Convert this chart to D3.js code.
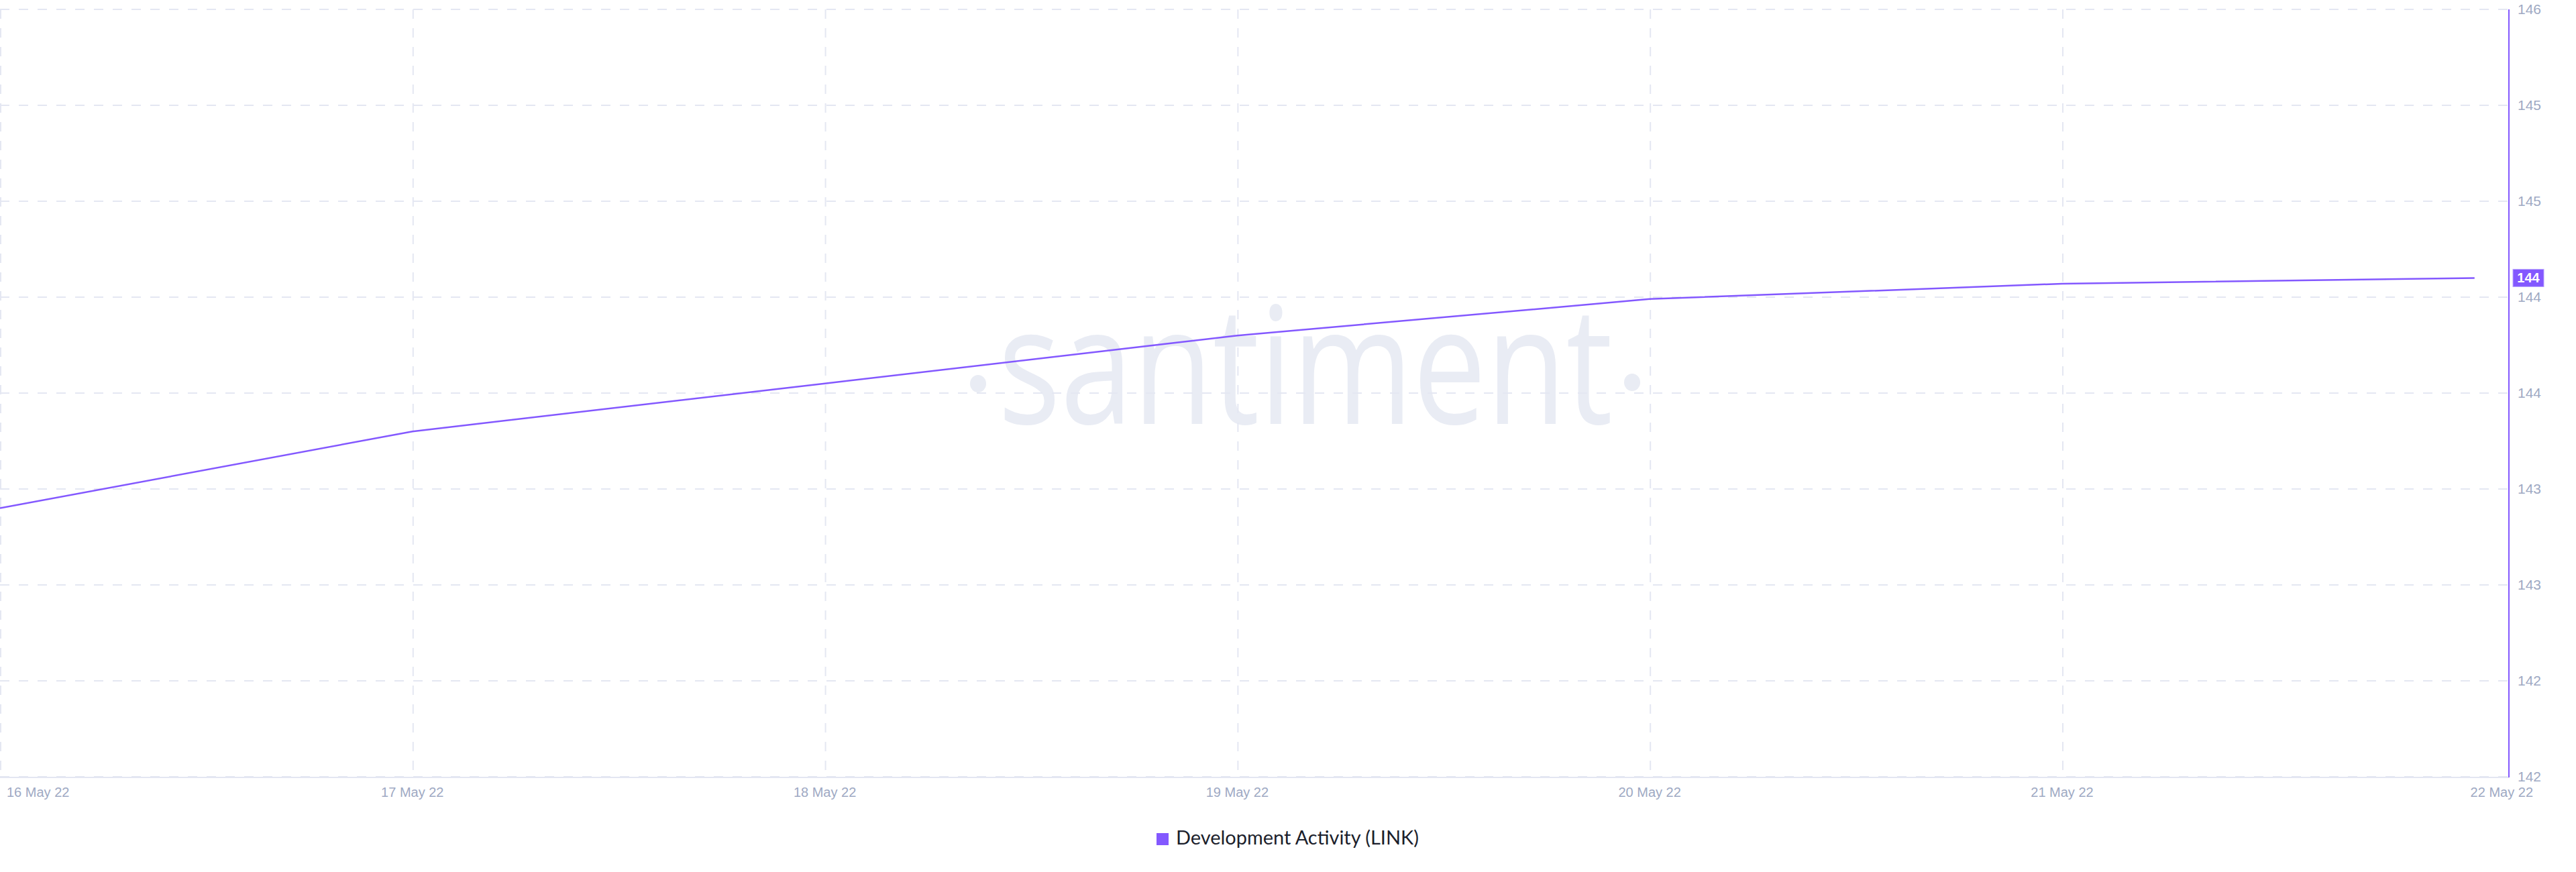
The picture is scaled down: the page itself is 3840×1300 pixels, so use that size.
<!DOCTYPE html>
<html>
<head>
<meta charset="utf-8">
<script src="https://cdn.jsdelivr.net/npm/d3@7"></script>
<style>
html,body{margin:0;padding:0;background:#fff;}
svg{display:block;}
</style>
</head>
<body>
<script>
// ---- data ----
const dates = ["2022-05-16","2022-05-17","2022-05-18","2022-05-19","2022-05-20","2022-05-21","2022-05-22"];
const devActivity = [143.40, 143.80, 144.05, 144.30, 144.49, 144.57, 144.60];
const xTickLabels = ["16 May 22","17 May 22","18 May 22","19 May 22","20 May 22","21 May 22","22 May 22"];
const yTickValues = [146, 145.5, 145, 144.5, 144, 143.5, 143, 142.5, 142];
const yTickLabels = ["146","145","145","144","144","143","143","142","142"];
const seriesName = "Development Activity (LINK)";

(function(){
// ---- layout ----
const W = 3840, H = 1300;
const pLeft = 0, pRight = 3740, pTop = 14, pBottom = 1158;
const purple = "#8358ff";
const gridColor = "#e4e7f2";
const tickColor = "#9ea9c3";

const parse = d3.utcParse("%Y-%m-%d");
const data = dates.map((d,i)=>({date: parse(d), value: devActivity[i]}));

const x = d3.scaleUtc()
  .domain([parse(dates[0]), new Date(parse(dates[dates.length-1]).getTime() + 2*3600*1000)])
  .range([pLeft, pRight]);
const y = d3.scaleLinear().domain([142, 146]).range([pBottom, pTop]);

const svg = d3.select("body").append("svg").attr("width", W).attr("height", H);

// watermark
const wm = svg.append("g").attr("transform", "translate(1946,632) scale(0.8,1)");
wm.append("text")
  .attr("text-anchor","middle")
  .attr("font-family","'Open Sans', sans-serif")
  .attr("font-size", 243)
  .attr("fill","#e9ecf4")
  .text("santiment");
svg.append("ellipse").attr("cx",1458).attr("cy",572).attr("rx",12).attr("ry",13).attr("fill","#e9ecf4");
svg.append("ellipse").attr("cx",2433).attr("cy",570).attr("rx",12).attr("ry",13).attr("fill","#e9ecf4");

// horizontal grid
svg.append("g").selectAll("line").data(yTickValues).join("line")
  .attr("x1", pLeft).attr("x2", pRight)
  .attr("y1", d=>y(d)).attr("y2", d=>y(d))
  .attr("stroke", gridColor).attr("stroke-width", 2)
  .attr("stroke-dasharray", "14,14");

// vertical grid (day ticks except the last)
const vTicks = data.slice(0, data.length-1).map(d=>d.date);
svg.append("g").selectAll("line").data(vTicks).join("line")
  .attr("x1", d=>x(d)+1).attr("x2", d=>x(d)+1)
  .attr("y1", pTop).attr("y2", pBottom)
  .attr("stroke", gridColor).attr("stroke-width", 2)
  .attr("stroke-dasharray", "14,14");

// bottom axis line
svg.append("line").attr("x1", pLeft).attr("x2", pRight)
  .attr("y1", pBottom+1).attr("y2", pBottom+1)
  .attr("stroke", "#e3e6f2").attr("stroke-width", 2);

// right axis line
svg.append("line").attr("x1", pRight).attr("x2", pRight)
  .attr("y1", pTop).attr("y2", pBottom+1)
  .attr("stroke", purple).attr("stroke-width", 2);

// y tick labels
svg.append("g").selectAll("text").data(yTickValues).join("text")
  .attr("x", pRight + 13).attr("y", d=>y(d))
  .attr("dy","0.35em")
  .attr("font-family","'Liberation Sans', Arial, sans-serif")
  .attr("font-size", 21)
  .attr("fill", tickColor)
  .text((d,i)=>yTickLabels[i]);

// x tick labels: first starts at left edge, last ends at right edge
const xg = svg.append("g");
const nT = data.length;
data.forEach((d,i)=>{
  const t = xg.append("text")
    .attr("y", 1188)
    .attr("font-family","'Liberation Sans', Arial, sans-serif")
    .attr("font-size", 20)
    .attr("fill", tickColor)
    .text(xTickLabels[i]);
  if (i === 0) t.attr("text-anchor","start").attr("x", 10);
  else if (i === nT-1) t.attr("text-anchor","end").attr("x", 3776);
  else t.attr("text-anchor","middle").attr("x", x(d.date));
});

// line
const line = d3.line().x(d=>x(d.date)).y(d=>y(d.value));
svg.append("path").datum(data)
  .attr("d", line)
  .attr("fill","none")
  .attr("stroke", purple)
  .attr("stroke-width", 2.5)
  .attr("stroke-linejoin","round");

// last value badge
const last = data[data.length-1];
const by = y(last.value);
svg.append("rect").attr("x", pRight+6).attr("y", by-13).attr("width", 46).attr("height", 26)
  .attr("fill", purple).attr("stroke","#b9a3ff").attr("stroke-width",1);
svg.append("text").attr("x", pRight+29).attr("y", by).attr("dy","0.35em")
  .attr("text-anchor","middle")
  .attr("font-family","'Liberation Sans', Arial, sans-serif")
  .attr("font-size", 20).attr("font-weight", "bold")
  .attr("fill","#fff")
  .text(Math.floor(last.value));

// legend
const lg = svg.append("g");
lg.append("rect").attr("x",1724).attr("y",1242).attr("width",18).attr("height",18).attr("fill", purple);
const lt = lg.append("text").attr("x",1753).attr("y",1259)
  .attr("font-family","Lato, 'Open Sans', sans-serif")
  .attr("font-size", 25)
  .attr("fill","#1b1e2b")
  .text(seriesName);
const lw = lt.node().getComputedTextLength();
lt.attr("font-size", 25 * 362 / lw);
})();
</script>
</body>
</html>
